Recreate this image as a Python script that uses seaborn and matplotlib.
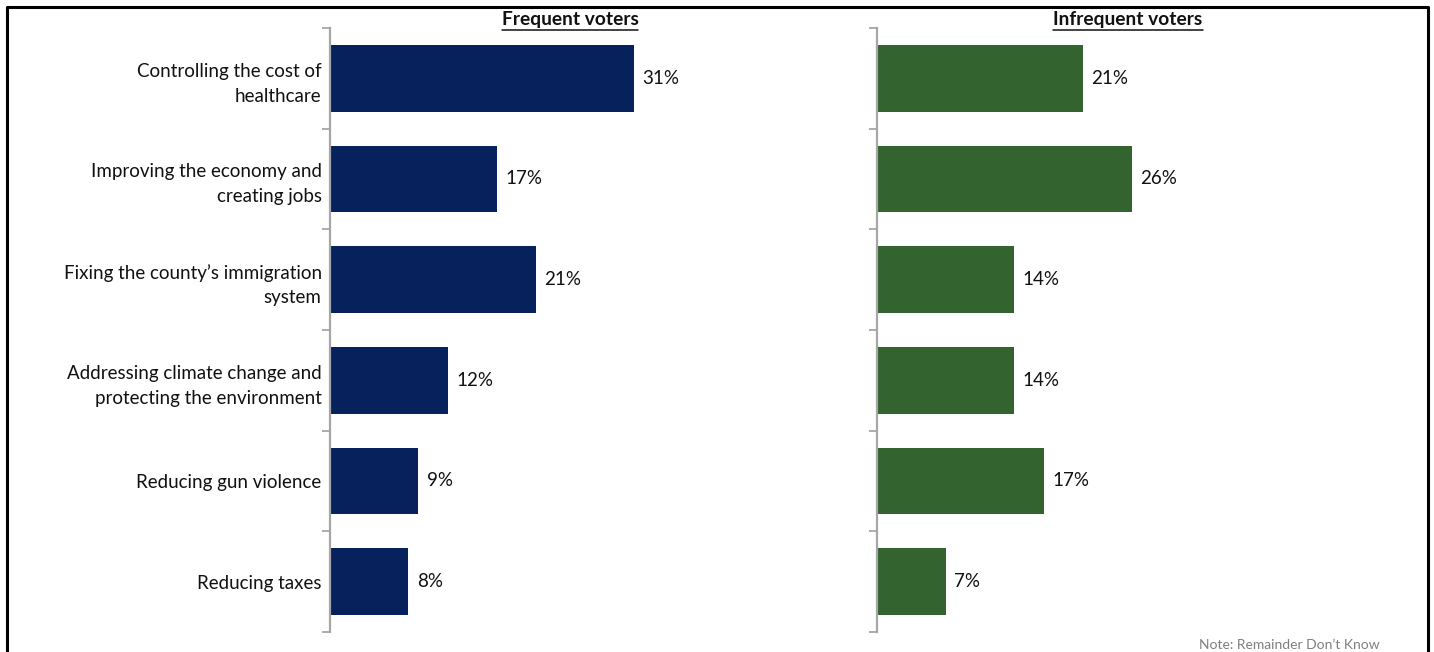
import matplotlib
matplotlib.use("Agg")
import matplotlib.pyplot as plt
from matplotlib.lines import Line2D
import numpy as np
import pandas as pd
import seaborn as sns

categories = [
    "Controlling the cost of\nhealthcare",
    "Improving the economy and\ncreating jobs",
    "Fixing the county\u2019s immigration\nsystem",
    "Addressing climate change and\nprotecting the environment",
    "Reducing gun violence",
    "Reducing taxes",
]
frequent = [31, 17, 21, 12, 9, 8]
infrequent = [21, 26, 14, 14, 17, 7]
panel_titles = ["Frequent voters", "Infrequent voters"]
note_text = "Note: Remainder Don\u2019t Know"

navy = "#06215b"
green = "#33632e"
spine_grey = "#a6a6a6"

sns.set_theme(style="white")
plt.rcParams["font.family"] = ["Lato", "DejaVu Sans"]

W, H = 1434, 652
fig = plt.figure(figsize=(W / 100, H / 100), dpi=100)

def box(x0, y0, x1, y1):
    return [x0 / W, 1 - y1 / H, (x1 - x0) / W, (y1 - y0) / H]

ax_left = fig.add_axes(box(330, 28, 810, 632))
ax_right = fig.add_axes(box(877, 28, 1380, 632))

px_per_pct = (634 - 330) / 31.0
fs = 13.5

panels = [
    (ax_left, frequent, navy, 330, 810),
    (ax_right, infrequent, green, 877, 1380),
]

for ax, vals, color, x0, x1 in panels:
    df = pd.DataFrame({"cat": categories, "val": vals})
    sns.barplot(data=df, x="val", y="cat", orient="h", color=color,
                width=0.66, saturation=1, ax=ax, edgecolor="none")
    ax.set_xlim(0, (x1 - x0) / px_per_pct)
    ax.set_ylim(len(categories) - 0.5, -0.5)
    for i, v in enumerate(vals):
        ax.text(v + 0.85, i, f"{v}%", va="center", ha="left",
                fontsize=fs, color="#111111")
    for s in ["top", "right", "bottom"]:
        ax.spines[s].set_visible(False)
    ax.spines["left"].set_color(spine_grey)
    ax.spines["left"].set_linewidth(1.6)
    ax.set_xticks([])
    ax.set_xlabel("")
    ax.set_ylabel("")
    # category boundary ticks
    ax.set_yticks(np.arange(-0.5, len(categories) + 0.5, 1.0), minor=True)
    ax.tick_params(axis="y", which="minor", length=6, width=1.3,
                   color=spine_grey, direction="out", left=True)
    ax.tick_params(axis="y", which="major", length=0, pad=6)

ax_left.set_yticks(range(len(categories)))
ax_left.set_yticklabels(categories, fontsize=fs, color="#111111",
                        linespacing=1.55)
for t in ax_left.get_yticklabels():
    t.set_horizontalalignment("right")
    t.set_multialignment("right")
ax_right.set_yticks(range(len(categories)))
ax_right.set_yticklabels([])

# panel headings, bold and underlined
for title, cx in zip(panel_titles, [570, 1128]):
    t = fig.text(cx / W, 1 - 20 / H, title, ha="center", va="center",
                 fontsize=13.8, fontweight="bold", color="#111111")
    fig.canvas.draw()
    bb = t.get_window_extent()
    y_line = bb.y0 - 1
    fig.add_artist(Line2D([bb.x0 / W, bb.x1 / W], [y_line / H, y_line / H],
                          transform=fig.transFigure, color="#111111", lw=1.1))

fig.text(1380 / W, 1 - 645 / H, note_text, ha="right", va="center",
         fontsize=10, color="#7f7f7f")

# outer frame (left, top, right)
fx0, fx1, fy0 = 7 / W, 1428 / W, 1 - 7 / H
fig.add_artist(Line2D([fx0, fx0, fx1, fx1], [0, fy0, fy0, 0],
                      transform=fig.transFigure, color="black", lw=2.2))

fig.savefig("out.png", dpi=100)
